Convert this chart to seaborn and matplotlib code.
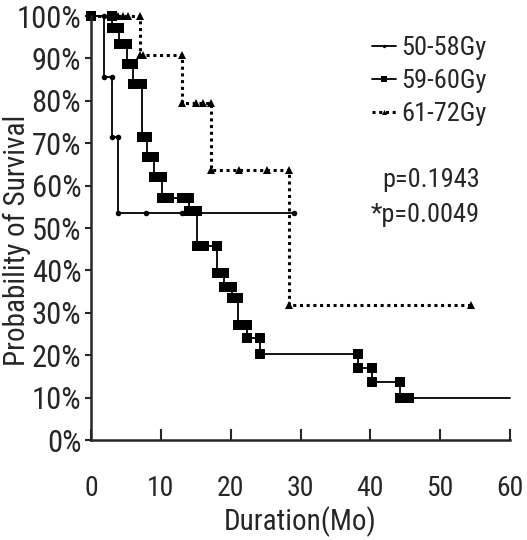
import matplotlib
matplotlib.use("Agg")
import matplotlib.pyplot as plt
from matplotlib import font_manager
import seaborn as sns
import pandas as pd

# group labels
labels = ["50-58Gy", "59-60Gy", "61-72Gy"]

# 50-58Gy : drop times (months) and survival after each drop (%)
g1_drop_t = [1.9, 3.0, 3.9]
g1_surv = [85.7, 71.4, 53.6]
g1_end = 29.0
g1_cens = [7.9, 13.0]

# 59-60Gy
g2_drop_t = [3.0, 4.0, 5.1, 6.0, 7.3, 8.0, 9.0, 10.2, 14.1, 15.2,
             18.0, 19.1, 20.2, 21.1, 22.3, 24.2, 38.2, 40.3, 44.3]
g2_surv = [97.1, 93.3, 88.7, 83.9, 71.5, 66.8, 62.1, 57.0, 54.1, 45.8,
           39.5, 36.2, 33.4, 27.1, 24.0, 20.4, 17.0, 13.6, 10.0]
g2_end = 60.0
g2_cens = [11.2, 13.1, 16.2, 45.5]

# 61-72Gy
g3_drop_t = [7.0, 13.1, 17.2, 28.3]
g3_surv = [90.9, 79.5, 63.6, 31.8]
g3_end = 54.4
g3_cens = [3.9, 4.6, 5.3, 7.5, 15.0, 16.1, 21.2, 25.2]

pvals = ["p=0.1943", "*p=0.0049"]


def step_vertices(drop_t, surv, end):
    xs, ys = [0.0], [100.0]
    prev = 100.0
    for t, s in zip(drop_t, surv):
        xs += [t, t]
        ys += [prev, s]
        prev = s
    xs.append(end)
    ys.append(prev)
    return pd.DataFrame({"t": xs, "s": ys})


def cens_points(drop_t, surv, cens):
    out = []
    for c in cens:
        lvl = 100.0
        for t, s in zip(drop_t, surv):
            if c >= t:
                lvl = s
        out.append(lvl)
    return pd.DataFrame({"t": cens, "s": out})


# the original looks like Arial Narrow -> look for a regular-weight narrow sans
cands = []
for f in font_manager.fontManager.ttflist:
    nm = f.name
    narrow_name = "Narrow" in nm or "Condensed" in nm
    narrow_stretch = f.stretch in ("condensed", "semi-condensed", "extra-condensed")
    if not (narrow_name or narrow_stretch):
        continue
    if f.style != "normal":
        continue
    if f.weight not in (400, "normal", "regular", "book"):
        continue
    if "Light" in nm or "Thin" in nm or "Mono" in nm:
        continue
    rank = 0 if "Liberation" in nm else 1 if "Arial" in nm else 2 if "Roboto" in nm else 3
    cands.append((rank, nm, f.stretch))
cands.sort()

sns.set_style("ticks")
if cands:
    plt.rcParams["font.family"] = [cands[0][1], "Liberation Sans", "DejaVu Sans"]
    plt.rcParams["font.stretch"] = cands[0][2]
    sz_x, sz_y, sz_lab, sz_leg = 20, 22, 21, 19
else:
    plt.rcParams["font.family"] = ["Liberation Sans", "DejaVu Sans"]
    sz_x, sz_y, sz_lab, sz_leg = 15, 15, 18, 15

fig = plt.figure(figsize=(5.27, 5.4), dpi=100)
ax = fig.add_axes([91 / 527, 100 / 540, 419 / 527, 424 / 540])

groups = [
    (g1_drop_t, g1_surv, g1_end, g1_cens, "o", 4, "-", 1.3, True),
    (g2_drop_t, g2_surv, g2_end, g2_cens, "s", 7, "-", 1.3, False),
    (g3_drop_t, g3_surv, g3_end, g3_cens, "^", 6, (0, (1, 1.2)), 2.2, True),
]

for lab, (dt, sv, end, cens, mk, ms, ls, lw, end_mark) in zip(labels, groups):
    df = step_vertices(dt, sv, end)
    n = len(df) if end_mark else len(df) - 1
    sns.lineplot(data=df, x="t", y="s", sort=False, estimator=None, ax=ax,
                 color="black", linestyle=ls, linewidth=lw, marker=mk,
                 markersize=ms, markeredgewidth=0, markevery=list(range(n)),
                 label=lab, clip_on=False)
    cp = cens_points(dt, sv, cens)
    ax.plot(cp["t"], cp["s"], linestyle="none", marker=mk, markersize=ms,
            color="black", markeredgewidth=0, clip_on=False)

ax.set_xlim(0, 60)
ax.set_ylim(0, 100)
ax.set_xticks(range(0, 61, 10))
ax.set_yticks(range(0, 101, 10))
ax.set_yticklabels([f"{v}%" for v in range(0, 101, 10)])
ax.tick_params(axis="x", direction="in", length=8, width=1.5, pad=25, labelsize=sz_x)
ax.tick_params(axis="y", direction="out", length=4, width=1.5, pad=3, labelsize=sz_y)
for side in ["top", "right"]:
    ax.spines[side].set_visible(False)
for side in ["left", "bottom"]:
    ax.spines[side].set_linewidth(1.8)

ax.set_xlabel("Duration(Mo)", fontsize=sz_lab, labelpad=3)
ax.set_ylabel("")
fig.text(17 / 527, 1 - 240 / 540, "Probability of Survival", rotation=90,
         ha="center", va="center", fontsize=sz_lab)

leg = ax.legend(loc="upper left", bbox_to_anchor=(348 / 527, 1 - 12 / 540),
                bbox_transform=fig.transFigure, frameon=False, fontsize=sz_leg,
                handlelength=0.9, handletextpad=0.2, labelspacing=0.35,
                markerscale=0.6)

fig.text(480 / 527, 1 - 180 / 540, pvals[0], ha="right", va="center", fontsize=sz_leg)
fig.text(480 / 527, 1 - 215 / 540, pvals[1], ha="right", va="center", fontsize=sz_leg)

fig.savefig("out.png", dpi=100)
